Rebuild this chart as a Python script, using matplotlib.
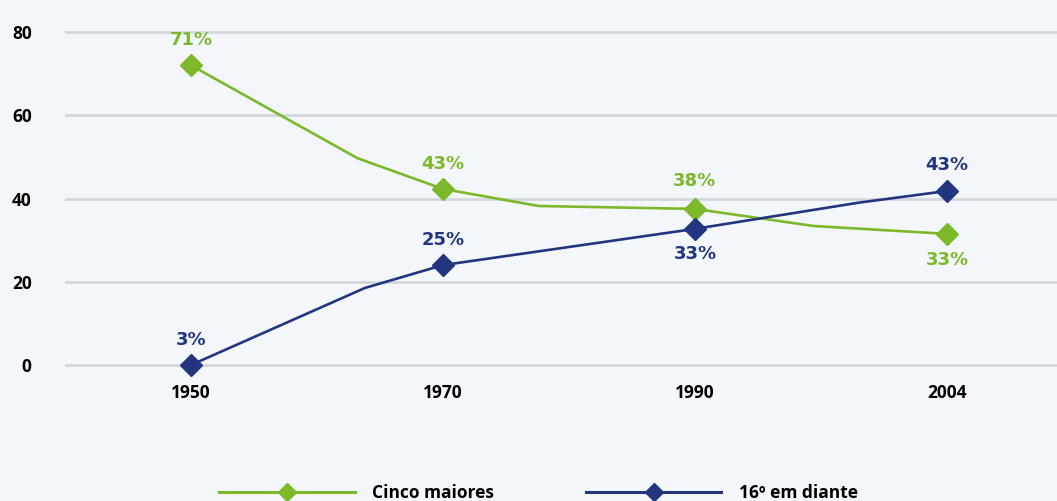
import matplotlib
matplotlib.use('Agg')
import matplotlib.pyplot as plt

# categorias do eixo x
anos = ['1950', '1970', '1990', '2004']
pos_anos = [0, 1, 2, 3]

# vertices das linhas (posicao no eixo, valor)
x_cinco = [0, 0.66, 1, 1.38, 2, 2.47, 3]
y_cinco = [72, 49.7, 42.3, 38.2, 37.5, 33.4, 31.5]
x_dezesseis = [0, 0.69, 1, 2, 2.65, 3]
y_dezesseis = [0, 18.5, 24, 32.7, 39.0, 41.8]

# valores nos marcadores
marc_cinco = [72, 42.3, 37.5, 31.5]
marc_dezesseis = [0, 24, 32.7, 41.8]

# rotulos
rot_cinco = ['71%', '43%', '38%', '33%']
rot_dezesseis = ['3%', '25%', '33%', '43%']

verde = '#7cb82a'
azul = '#243580'
fundo = '#f3f7fc'

plt.rcParams['font.family'] = ['Open Sans', 'DejaVu Sans']

fig = plt.figure(figsize=(10.57, 5.01), dpi=100, facecolor=fundo)
ax = fig.add_axes([65 / 1057, (501 - 380) / 501, 1 - 65 / 1057, 370 / 501])
ax.set_facecolor(fundo)

ax.plot(x_cinco, y_cinco, color=verde, lw=1.9, zorder=3)
ax.plot(x_dezesseis, y_dezesseis, color=azul, lw=1.9, zorder=3)
ax.plot(pos_anos, marc_cinco, ls='none', marker='D', ms=11, color=verde, zorder=4)
ax.plot(pos_anos, marc_dezesseis, ls='none', marker='D', ms=11, color=azul, zorder=4)

# rotulos acima/abaixo
desloc_cinco = [18, 18, 20, -19]
desloc_dezesseis = [18, 18, -18, 19]
for x, y, t, d in zip(pos_anos, marc_cinco, rot_cinco, desloc_cinco):
    ax.annotate(t, (x, y), xytext=(0, d), textcoords='offset points', ha='center', va='center',
                color=verde, fontsize=13, fontweight='bold', family='DejaVu Sans')
for x, y, t, d in zip(pos_anos, marc_dezesseis, rot_dezesseis, desloc_dezesseis):
    ax.annotate(t, (x, y), xytext=(0, d), textcoords='offset points', ha='center', va='center',
                color=azul, fontsize=13, fontweight='bold', family='DejaVu Sans')

ax.set_xlim(-0.5, 3.437)
ax.set_ylim((365 - 380) / 4.1625, (365 - 10) / 4.1625)
ax.set_yticks([0, 20, 40, 60, 80])
ax.set_xticks(pos_anos)
ax.set_xticklabels(anos)
ax.grid(axis='y', color='#d3d7dc', lw=2)
ax.set_axisbelow(True)
for s in ax.spines.values():
    s.set_visible(False)
ax.tick_params(axis='both', length=0, labelsize=12.5)
ax.tick_params(axis='y', pad=24)
ax.tick_params(axis='x', pad=3)
for lab in ax.get_xticklabels() + ax.get_yticklabels():
    lab.set_fontweight('bold')

h1, = ax.plot([], [], color=verde, lw=2.2, marker='D', ms=9, label='Cinco maiores')
h2, = ax.plot([], [], color=azul, lw=2.2, marker='D', ms=9, label='16º em diante')
fig.legend(handles=[h1, h2], loc='center', bbox_to_anchor=(0.5095, 0.015), ncol=2, frameon=False,
           handlelength=7.8, handletextpad=1.0, columnspacing=5.3,
           prop={'weight': 'bold', 'size': 12.5})

fig.savefig('out.png', dpi=100, facecolor=fundo)
